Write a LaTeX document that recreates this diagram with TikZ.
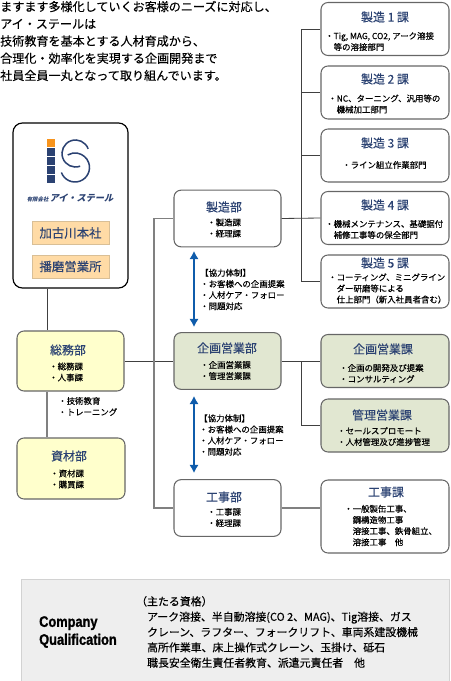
\documentclass[tikz,border=0pt]{standalone}
\usepackage{fontspec}
\setmainfont[FakeBold=0.25]{Noto Sans CJK JP}
\newfontfamily\logofont[FakeSlant=0.25]{Noto Sans CJK JP}
\newfontfamily\qualfont[FakeStretch=0.84, FakeBold=1.2]{Liberation Sans Bold}
\usepackage{tikz}
\usetikzlibrary{arrows.meta, positioning, calc}
\definecolor{isnavy}{HTML}{2B4272}
\definecolor{isorange}{HTML}{F7941D}
\definecolor{issand}{HTML}{FFDBA6}
\definecolor{issandline}{HTML}{D9BF96}
\definecolor{isyellow}{HTML}{FFFFCC}
\definecolor{isgreen}{HTML}{E1E7D1}
\definecolor{isgray}{HTML}{666666}
\definecolor{isblue}{HTML}{0F5CAB}
\definecolor{ispanel}{HTML}{EEEEEE}
\definecolor{ispanelline}{HTML}{D2D2D2}

\begin{document}
\begin{tikzpicture}[
  x=0.03cm, y=-0.03cm,
  dept/.style={draw=isgray, line width=0.9pt, rounded corners=6pt, inner sep=0pt,
    minimum width=3.21cm, minimum height=1.7cm},
  unit/.style={draw=isgray, line width=0.9pt, rounded corners=6pt, inner sep=0pt,
    minimum width=3.84cm, minimum height=1.59cm},
  office/.style={draw=issandline, fill=issand, inner sep=0pt, text=isnavy,
    minimum width=2.31cm, minimum height=0.7cm, font=\fontsize{10.6}{12}\selectfont},
  head/.style={text=isnavy, inner sep=0pt, font=\fontsize{10.2}{12}\selectfont},
  list/.style={anchor=west, inner sep=0pt, align=left,
    font=\fontsize{7.2}{9.5}\selectfont},
  conn/.style={draw=black!75, line width=0.7pt},
  conngray/.style={draw=black!50, line width=0.9pt},
  link/.style={{Latex[length=7pt,width=8pt]}-{Latex[length=7pt,width=8pt]},
    draw=isblue, line width=1.1pt}
]
  \useasboundingbox (0,0) rectangle (450,681);

  % Intro
  \node[anchor=west, inner sep=0pt, align=left, font=\fontsize{10.3}{14.7}\selectfont] (intro) at (0,41)
    {ますます多様化していくお客様のニーズに対応し、\\アイ・ステールは\\技術教育を基本とする人材育成から、\\合理化・効率化を実現する企画開発まで\\社員全員一丸となって取り組んでいます。};

  % Company box
  \node[draw, line width=1pt, rounded corners=8pt, inner sep=0pt, minimum width=3.45cm,
    minimum height=4.95cm] (logo) at (70.5,205.5) {};
  \fill[isorange] (47,139) rectangle (55,147);
  \foreach \yy in {148,157,166,175}
    \fill[isnavy] (47,\yy) rectangle (55,\yy+7.6);
  \draw[isnavy, line width=1.3pt] (75.5,153.5) ++(-20:13.5) arc[start angle=-20, end angle=-290, radius=13.5];
  \draw[isnavy, line width=1.3pt] (75,167.5) ++(-200:14.5) arc[start angle=-200, end angle=-480, radius=14.5];
  \node[text=isnavy, inner sep=0pt] (logotext) at (70,198)
    {\logofont\bfseries\fontsize{4.6}{6}\selectfont 有限会社\ \fontsize{7.8}{10}\selectfont アイ・ステール};
  \node[office] (honsha) at (70.5,233) {加古川本社};
  \node[office] (harima) at (70.5,266.5) {播磨営業所};

  % Left column
  \node[dept, fill=isyellow, minimum width=3.21cm, minimum height=1.8cm] (somu) at (70.5,361) {};
  \node[head] (somuT) at (68,350) {総務部};
  \node[list] (somuL) at (49,372) {・総務課\\・人事課};
  \node[list] (kyoiku) at (58,406.5) {・技術教育\\・トレーニング};
  \node[dept, fill=isyellow, minimum width=3.24cm, minimum height=1.83cm] (shizai) at (71,468.5) {};
  \node[head] (shizaiT) at (69,456) {資材部};
  \node[list] (shizaiL) at (50,479) {・資材課\\・購買課};

  % Departments
  \node[dept, fill=white] (seizo) at (227.5,218.5) {};
  \node[head] (seizoT) at (224,207) {製造部};
  \node[list] (seizoL) at (207,228) {・製造課\\・経理課};
  \node[dept, fill=isgreen] (kikaku) at (227.5,361) {};
  \node[head] (kikakuT) at (227,348) {企画営業部};
  \node[list] (kikakuL) at (200,370.5) {・企画営業課\\・管理営業課};
  \node[dept, fill=white] (koji) at (227.5,508) {};
  \node[head] (kojiT) at (224,497) {工事部};
  \node[list] (kojiL) at (207,517.5) {・工事課\\・経理課};

  \node[list] (kyoryokuA) at (200,289.5) {【協力体制】\\・お客様への企画提案\\・人材ケア・フォロー\\・問題対応};
  \node[list] (kyoryokuB) at (199,435) {【協力体制】\\・お客様への企画提案\\・人材ケア・フォロー\\・問題対応};

  % Seizo units
  \node[unit] (ka1) at (385,29) {};
  \node[head] (ka1T) at (385,17) {製造 1 課};
  \node[list] (ka1L) at (325,41.5) {・Tig, MAG, CO2, アーク溶接\\　等の溶接部門};
  \node[unit] (ka2) at (385,92.5) {};
  \node[head] (ka2T) at (385,79) {製造 2 課};
  \node[list] (ka2L) at (328,104) {・NC、ターニング、汎用等の\\　機械加工部門};
  \node[unit] (ka3) at (385,155.5) {};
  \node[head] (ka3T) at (385,143) {製造 3 課};
  \node[list] (ka3L) at (342,165) {・ライン組立作業部門};
  \node[unit] (ka4) at (385,218) {};
  \node[head] (ka4T) at (385,205) {製造 4 課};
  \node[list] (ka4L) at (325,229.5) {・機械メンテナンス、基礎据付\\　補修工事等の保全部門};
  \node[unit] (ka5) at (385,281.5) {};
  \node[head] (ka5T) at (385,263) {製造 5 課};
  \node[list] (ka5L) at (328,288.5) {・コーティング、ミニグライン\\　ダー研磨等による\\　仕上部門（新入社員者含む）};

  % Eigyo and koji units
  \node[unit, fill=isgreen] (eigyo1) at (385,361) {};
  \node[head] (eigyo1T) at (383,349) {企画営業課};
  \node[list] (eigyo1L) at (339,373.5) {・企画の開発及び提案\\・コンサルティング};
  \node[unit, fill=isgreen] (eigyo2) at (385,425.5) {};
  \node[head] (eigyo2T) at (382,415) {管理営業課};
  \node[list] (eigyo2L) at (337,436.5) {・セールスプロモート\\・人材管理及び進捗管理};
  \node[unit, minimum height=2.19cm] (kojika) at (385,516.5) {};
  \node[head] (kojikaT) at (386,492) {工事課};
  \node[list] (kojikaL) at (344,525.5) {・一般製缶工事、\\　鋼構造物工事\\　溶接工事、鉄骨組立、\\　溶接工事　他};

  % Connectors
  \coordinate (busT) at (47,361);
  \coordinate (busL) at (154,361);
  \coordinate (busS) at (301,218);
  \coordinate (busE) at (301,361);
  \draw[conn] (busT |- logo.south) -- (busT |- somu.north);
  \draw[conngray] (busT |- somu.south) -- (busT |- shizai.north);
  \draw[conn] (somu.east) -- (kikaku.west);
  \draw[conngray] (busL) |- (seizo.west);
  \draw[conngray] (busL) |- (koji.west);
  \draw[conn] (seizo.east) -- (ka4.west);
  \draw[conn] (busS) |- (ka1.west);
  \draw[conn] (busS) |- (ka2.west);
  \draw[conn] (busS) |- (ka3.west);
  \draw[conn] (busS) |- (ka5.west);
  \draw[conn] (kikaku.east) -- (eigyo1.west);
  \draw[conn] (busE) |- (eigyo2.west);
  \draw[conngray] (koji.east) -- (koji.east -| kojika.west);

  % Cooperation arrows
  \coordinate (linkA1) at (194,251);
  \coordinate (linkA2) at (194,327);
  \coordinate (linkB1) at (194,396);
  \coordinate (linkB2) at (194,473);
  \draw[link] (linkA1) -- (linkA2);
  \draw[link] (linkB1) -- (linkB2);

  % Qualification
  \node[draw=ispanelline, fill=ispanel, line width=0.8pt, inner sep=0pt, minimum width=12.84cm,
    minimum height=3.09cm] (panel) at (235,630.5) {};
  \node[anchor=west, inner sep=0pt, align=left,
    font=\qualfont\fontsize{13}{15.3}\selectfont] (qualT) at (39,632) {Company\\Qualification};
  \node[anchor=west, inner sep=0pt, align=left, font=\fontsize{9.3}{13.1}\selectfont] (qualL) at (136,632)
    {（主たる資格）\\　アーク溶接、半自動溶接(CO 2、MAG)、Tig溶接、ガス\\　クレーン、ラフター、フォークリフト、車両系建設機械\\　高所作業車、床上操作式クレーン、玉掛け、砥石\\　職長安全衛生責任者教育、派遣元責任者　他};
\end{tikzpicture}
\end{document}
